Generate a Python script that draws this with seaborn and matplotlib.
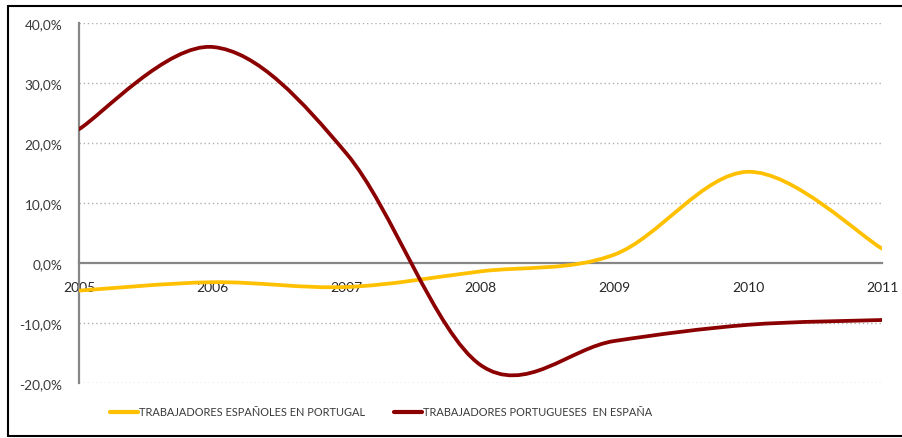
import matplotlib
matplotlib.use("Agg")
import matplotlib.pyplot as plt
from matplotlib.path import Path
from matplotlib.patches import PathPatch
from matplotlib.lines import Line2D
import numpy as np
import pandas as pd
import seaborn as sns

years = ["2005", "2006", "2007", "2008", "2009", "2010", "2011"]
espanoles_pt = [-4.6, -3.2, -4.0, -1.4, 1.4, 15.2, 2.4]
portugueses_es = [22.3, 36.0, 18.2, -17.0, -13.0, -10.3, -9.5]
series_names = ["TRABAJADORES ESPAÑOLES EN PORTUGAL", "TRABAJADORES PORTUGUESES  EN ESPAÑA"]
colores = ["#FFC000", "#8B0000"]
y_ticks = [-20, -10, 0, 10, 20, 30, 40]

sns.set_style("white")
plt.rcParams['font.family'] = ['Lato', 'DejaVu Sans']

df = pd.DataFrame({series_names[0]: espanoles_pt, series_names[1]: portugueses_es}, index=years)


def smooth_path(xs, ys):
    # bezier like excel "smoothed line"
    pts = np.column_stack([xs, ys]).astype(float)
    n = len(pts)
    verts = [pts[0]]
    codes = [Path.MOVETO]
    for i in range(n - 1):
        p0 = pts[max(i - 1, 0)]
        p1 = pts[i]
        p2 = pts[i + 1]
        p3 = pts[min(i + 2, n - 1)]
        c1 = p1 + (p2 - p0) / 6
        c2 = p2 - (p3 - p1) / 6
        verts += [c1, c2, p2]
        codes += [Path.CURVE4] * 3
    return Path(verts, codes)


fig = plt.figure(figsize=(9.03, 4.39), dpi=100)
ax = fig.add_axes([79 / 903, 1 - 384 / 439, (882 - 79) / 903, 360 / 439])

x = np.arange(len(years))
for name, col in zip(series_names, colores):
    ax.add_patch(PathPatch(smooth_path(x, df[name].values), facecolor="none",
                           edgecolor=col, lw=2.7, capstyle="round", zorder=3))

ax.set_xlim(0, len(years) - 1)
ax.set_ylim(-20, 40)
ax.set_yticks(y_ticks)
ax.set_yticklabels([f"{v:.1f}%".replace(".", ",") for v in y_ticks], color="#3a3a3a", fontsize=9.8)
for v in y_ticks:
    if v != 0:
        ax.axhline(v, color="#b0b0b0", lw=1, ls=(0, (1, 2)), zorder=1)

ax.set_xticks(x)
ax.set_xticklabels(years, color="#3a3a3a", fontsize=10.5)
ax.tick_params(axis="x", direction="out", length=4, color="#868686", pad=9)
ax.tick_params(axis="y", direction="out", length=4, color="#868686", pad=8)

for s in ["top", "right"]:
    ax.spines[s].set_visible(False)
ax.spines["left"].set_color("#868686")
ax.spines["left"].set_linewidth(1.6)
ax.spines["bottom"].set_position(("data", 0))
ax.spines["bottom"].set_color("#868686")
ax.spines["bottom"].set_linewidth(1.6)

handles = [Line2D([0], [0], color=c, lw=3) for c in colores]
fig.legend(handles, series_names, loc="center", bbox_to_anchor=(381 / 903, 1 - 413 / 439),
           ncol=2, frameon=False, handlelength=2.6, handletextpad=0.05,
           columnspacing=2.6, labelcolor="#3a3a3a", fontsize=7.9)

# marco exterior (arriba, izquierda, abajo)
fig.add_artist(Line2D([8 / 903, 1], [1 - 7 / 439, 1 - 7 / 439], color="black", lw=1.5, transform=fig.transFigure))
fig.add_artist(Line2D([8 / 903, 8 / 903], [1 - 7 / 439, 1 - 437 / 439], color="black", lw=1.5, transform=fig.transFigure))
fig.add_artist(Line2D([8 / 903, 1], [1 - 437 / 439, 1 - 437 / 439], color="black", lw=1.5, transform=fig.transFigure))

fig.savefig("out.png", dpi=100)
